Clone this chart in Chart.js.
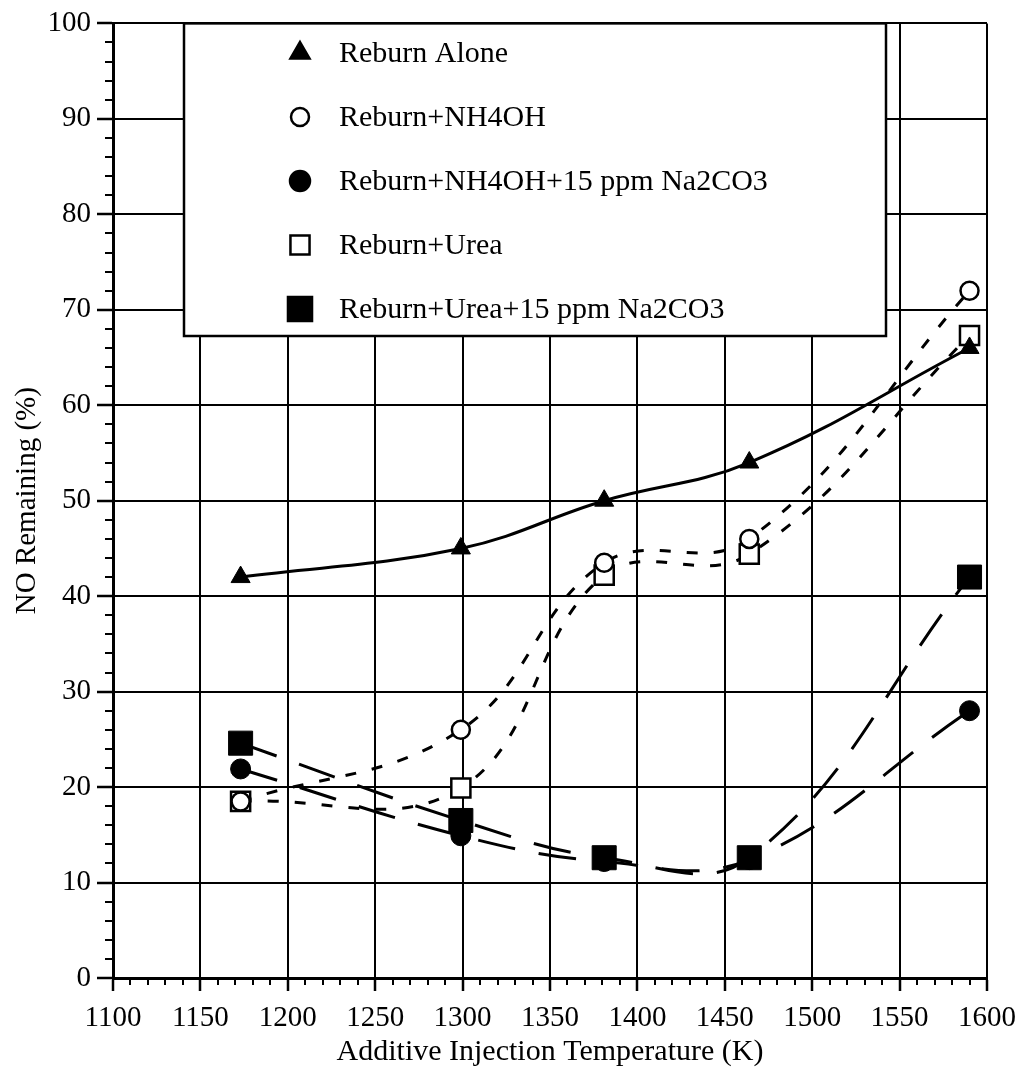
<!DOCTYPE html>
<html>
<head>
<meta charset="utf-8">
<script src="https://cdn.jsdelivr.net/npm/chart.js@4.4.0/dist/chart.umd.min.js"></script>
<style>
  html, body { margin: 0; padding: 0; background: #fff; }
  #wrap { width: 1026px; height: 1083px; }
</style>
</head>
<body>
<div id="wrap"><canvas id="myChart" width="1026" height="1083"></canvas></div>
<script>
// temperatures (K) where the additive was injected
let temps = [1173, 1299, 1381, 1464, 1590];

// NO remaining (%) for each run
let reburnAlone   = [42, 45, 50, 54, 66];
let reburnNH4OH   = [18.5, 26, 43.5, 46, 72];
let reburnNH4OHNa = [21.9, 14.9, 12.2, 12.4, 28];
let reburnUrea    = [18.5, 19.9, 42.2, 44.4, 67.3];
let reburnUreaNa  = [24.6, 16.5, 12.6, 12.6, 42];

let seriesNames = ['Reburn Alone', 'Reburn+NH4OH', 'Reburn+NH4OH+15 ppm Na2CO3', 'Reburn+Urea', 'Reburn+Urea+15 ppm Na2CO3'];

let xTicks = [1100, 1150, 1200, 1250, 1300, 1350, 1400, 1450, 1500, 1550, 1600];
let yTicks = [0, 10, 20, 30, 40, 50, 60, 70, 80, 90, 100];

let serif = "'Liberation Serif', 'Times New Roman', serif";

function toPoints(xs, ys) {
  let pts = [];
  for (let i = 0; i < xs.length; i++) {
    pts.push({x: xs[i], y: ys[i]});
  }
  return pts;
}

// own marker drawing, used for the legend box
function drawMarker(ctx, style, r, filled, x, y) {
  ctx.beginPath();
  if (style === 'triangle') {
    let a = 0;
    for (let k = 0; k < 3; k++) {
      let px = x + Math.sin(a) * r, py = y - Math.cos(a) * r;
      if (k === 0) ctx.moveTo(px, py); else ctx.lineTo(px, py);
      a += Math.PI * 2 / 3;
    }
    ctx.closePath();
  } else if (style === 'rect') {
    let s = Math.SQRT1_2 * r;
    ctx.rect(x - s, y - s, 2 * s, 2 * s);
  } else {
    ctx.arc(x, y, r, 0, Math.PI * 2);
  }
  ctx.fillStyle = filled ? '#000' : '#fff';
  ctx.fill();
  ctx.lineWidth = 2.5;
  ctx.strokeStyle = '#000';
  ctx.stroke();
}

let legendBox = {
  id: 'legendBox',
  afterDraw(chart) {
    let ctx = chart.ctx;
    let area = chart.chartArea;
    let left = 184, right = 886, top = area.top, bottom = 336;
    ctx.save();
    ctx.fillStyle = '#fff';
    ctx.fillRect(left, top, right - left, bottom - top);
    ctx.lineWidth = 2.5;
    ctx.strokeStyle = '#000';
    ctx.strokeRect(left, top, right - left, bottom - top);

    chart.data.datasets.forEach(function(ds, i) {
      let y = 53 + i * 64;
      drawMarker(ctx, ds.pointStyle, ds.pointRadius, ds.pointBackgroundColor === '#000', 300, y);
      ctx.fillStyle = '#000';
      ctx.font = '30px ' + serif;
      ctx.textAlign = 'left';
      ctx.textBaseline = 'middle';
      ctx.fillText(ds.label, 339, y + 1);
    });
    ctx.restore();
  }
};

// small ticks between the labelled ones
let minorTicks = {
  id: 'minorTicks',
  afterDraw(chart) {
    let ctx = chart.ctx;
    let xs = chart.scales.x, ys = chart.scales.y;
    let area = chart.chartArea;
    ctx.save();
    ctx.strokeStyle = '#000';
    ctx.lineWidth = 2;
    ctx.beginPath();
    for (let v = xs.min; v <= xs.max; v += 10) {
      if (v % 50 === 0) continue;
      let px = Math.round(xs.getPixelForValue(v));
      ctx.moveTo(px, area.bottom);
      ctx.lineTo(px, area.bottom + 7);
    }
    for (let v = ys.min; v <= ys.max; v += 2) {
      if (v % 10 === 0) continue;
      let py = Math.round(ys.getPixelForValue(v));
      ctx.moveTo(area.left - 8, py);
      ctx.lineTo(area.left, py);
    }
    ctx.stroke();
    ctx.restore();
  }
};

let solid = [];
let shortDash = [11, 16];
let longDash = [38, 24];

function plainLabel(value) {
  return String(value);
}

let ctx = document.getElementById('myChart').getContext('2d');
let chart = new Chart(ctx, {
  type: 'line',
  data: {
    datasets: [
      {
        label: seriesNames[0],
        data: toPoints(temps, reburnAlone),
        borderColor: '#000', borderWidth: 3, borderDash: solid,
        pointStyle: 'triangle', pointRadius: 11,
        pointBackgroundColor: '#000', pointBorderColor: '#000', pointBorderWidth: 1,
        tension: 0.4, fill: false
      },
      {
        label: seriesNames[1],
        data: toPoints(temps, reburnNH4OH),
        borderColor: '#000', borderWidth: 3, borderDash: shortDash,
        pointStyle: 'circle', pointRadius: 9,
        pointBackgroundColor: '#fff', pointBorderColor: '#000', pointBorderWidth: 2.5,
        tension: 0.4, fill: false
      },
      {
        label: seriesNames[2],
        data: toPoints(temps, reburnNH4OHNa),
        borderColor: '#000', borderWidth: 3, borderDash: longDash,
        pointStyle: 'circle', pointRadius: 10,
        pointBackgroundColor: '#000', pointBorderColor: '#000', pointBorderWidth: 1,
        tension: 0.4, fill: false
      },
      {
        label: seriesNames[3],
        data: toPoints(temps, reburnUrea),
        borderColor: '#000', borderWidth: 3, borderDash: shortDash,
        pointStyle: 'rect', pointRadius: 13.5,
        pointBackgroundColor: '#fff', pointBorderColor: '#000', pointBorderWidth: 2.5,
        tension: 0.4, fill: false
      },
      {
        label: seriesNames[4],
        data: toPoints(temps, reburnUreaNa),
        borderColor: '#000', borderWidth: 3, borderDash: longDash,
        pointStyle: 'rect', pointRadius: 17,
        pointBackgroundColor: '#000', pointBorderColor: '#000', pointBorderWidth: 1,
        tension: 0.4, fill: false
      }
    ]
  },
  options: {
    responsive: false,
    animation: false,
    devicePixelRatio: 1,
    layout: { padding: { top: 18, right: 24, left: 0, bottom: 0 } },
    plugins: {
      legend: { display: false },
      tooltip: { enabled: false }
    },
    scales: {
      x: {
        type: 'linear',
        min: 1100, max: 1600,
        afterBuildTicks: function(scale) { scale.ticks = xTicks.map(function(v) { return {value: v}; }); },
        afterFit: function(scale) { scale.height = 105; },
        grid: { color: '#000', lineWidth: 2, tickLength: 13, tickColor: '#000', tickWidth: 2.5 },
        border: { color: '#000', width: 3 },
        ticks: { color: '#000', font: { family: serif, size: 29 }, padding: 10, maxRotation: 0, autoSkip: false, callback: plainLabel },
        title: {
          display: true, text: 'Additive Injection Temperature (K)', color: '#000',
          font: { family: serif, size: 30 }, padding: { top: 0, bottom: 13 }
        }
      },
      y: {
        min: 0, max: 100,
        afterBuildTicks: function(scale) { scale.ticks = yTicks.map(function(v) { return {value: v}; }); },
        afterFit: function(scale) { scale.width = 113; },
        grid: { color: '#000', lineWidth: 2, tickLength: 16, tickColor: '#000', tickWidth: 2.5 },
        border: { color: '#000', width: 3 },
        ticks: { color: '#000', font: { family: serif, size: 29 }, padding: 6, autoSkip: false, callback: plainLabel },
        title: {
          display: true, text: 'NO Remaining (%)', color: '#000',
          font: { family: serif, size: 29 }, padding: { top: 10, bottom: 0 }
        }
      }
    }
  },
  plugins: [legendBox, minorTicks]
});
</script>
</body>
</html>
